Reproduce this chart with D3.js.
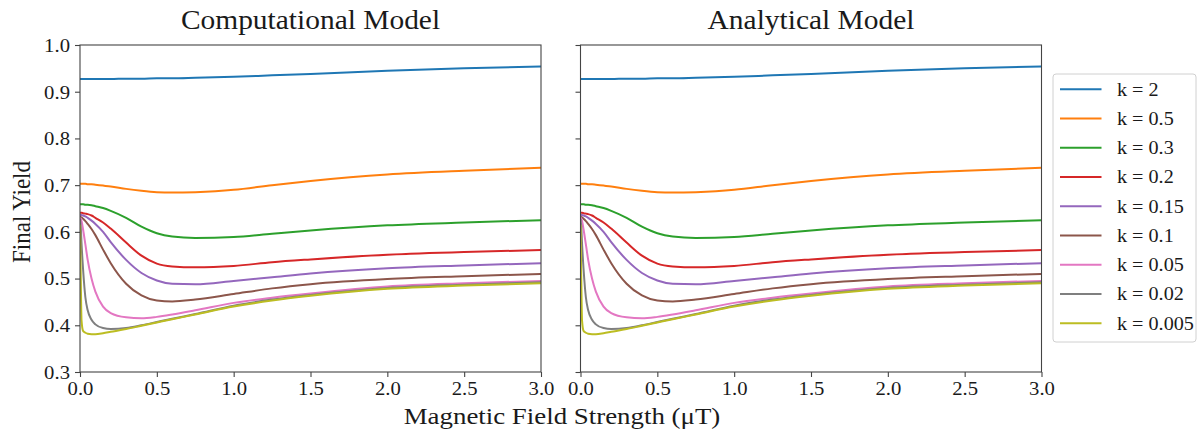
<!DOCTYPE html>
<html>
<head>
<meta charset="utf-8">
<script src="https://cdn.jsdelivr.net/npm/d3@7"></script>
<style>
  html, body { margin: 0; padding: 0; background: #fff; }
  svg { display: block; }
</style>
</head>
<body>
<svg id="chart" width="1198" height="432"></svg>
<script>
// Magnetic field strength (μT) sample points
const fieldStrength = [0, 0.005, 0.01, 0.02, 0.035, 0.05, 0.075, 0.1, 0.15, 0.2, 0.3, 0.4, 0.5, 0.6, 0.75, 1.0, 1.25, 1.5, 2.0, 2.5, 3.0];

// Final yield for each rate constant k
const yieldK2    = [0.927, 0.927, 0.927, 0.927, 0.927, 0.927, 0.927, 0.927, 0.927, 0.927, 0.928, 0.928, 0.929, 0.929, 0.930, 0.932, 0.935, 0.938, 0.945, 0.950, 0.954];
const yieldK05   = [0.703, 0.703, 0.703, 0.703, 0.703, 0.702, 0.702, 0.701, 0.699, 0.697, 0.692, 0.688, 0.685, 0.684, 0.685, 0.690, 0.700, 0.709, 0.723, 0.731, 0.737];
const yieldK03   = [0.659, 0.659, 0.659, 0.659, 0.658, 0.658, 0.657, 0.655, 0.651, 0.645, 0.630, 0.611, 0.597, 0.590, 0.587, 0.589, 0.596, 0.603, 0.614, 0.620, 0.625];
const yieldK02   = [0.641, 0.641, 0.641, 0.640, 0.639, 0.638, 0.635, 0.630, 0.620, 0.607, 0.577, 0.549, 0.532, 0.526, 0.524, 0.527, 0.535, 0.541, 0.551, 0.557, 0.561];
const yieldK015  = [0.636, 0.636, 0.636, 0.635, 0.633, 0.630, 0.624, 0.617, 0.600, 0.578, 0.540, 0.512, 0.496, 0.489, 0.488, 0.495, 0.503, 0.511, 0.522, 0.528, 0.533];
const yieldK01   = [0.632, 0.632, 0.631, 0.628, 0.623, 0.617, 0.606, 0.593, 0.562, 0.533, 0.489, 0.464, 0.453, 0.451, 0.455, 0.467, 0.479, 0.488, 0.499, 0.505, 0.510];
const yieldK005  = [0.630, 0.628, 0.623, 0.605, 0.573, 0.540, 0.500, 0.472, 0.440, 0.426, 0.417, 0.415, 0.418, 0.423, 0.432, 0.448, 0.459, 0.468, 0.483, 0.490, 0.495];
const yieldK002  = [0.628, 0.610, 0.575, 0.520, 0.460, 0.432, 0.412, 0.402, 0.394, 0.392, 0.394, 0.400, 0.407, 0.414, 0.424, 0.442, 0.455, 0.465, 0.480, 0.487, 0.492];
const yieldK0005 = [0.615, 0.500, 0.410, 0.388, 0.384, 0.382, 0.381, 0.381, 0.383, 0.386, 0.392, 0.399, 0.406, 0.413, 0.423, 0.440, 0.453, 0.463, 0.478, 0.485, 0.490];

const seriesLabels = ["k = 2", "k = 0.5", "k = 0.3", "k = 0.2", "k = 0.15", "k = 0.1", "k = 0.05", "k = 0.02", "k = 0.005"];
const seriesValues = [yieldK2, yieldK05, yieldK03, yieldK02, yieldK015, yieldK01, yieldK005, yieldK002, yieldK0005];
const seriesColors = ["#1f77b4", "#ff7f0e", "#2ca02c", "#d62728", "#9467bd", "#8c564b", "#e377c2", "#7f7f7f", "#bcbd22"];

const panelTitles = ["Computational Model", "Analytical Model"];
const xTicks = [0, 0.5, 1.0, 1.5, 2.0, 2.5, 3.0];
const yTicks = [0.3, 0.4, 0.5, 0.6, 0.7, 0.8, 0.9, 1.0];

// Layout
const svg = d3.select("#chart");
const fontFamily = "Liberation Serif";
const stretch = 1.12;           // horizontal glyph stretch
const plotTop = 45, plotH = 327, plotW = 461;
const panelLefts = [80, 580.5];
const axisColor = "#444";

const x = d3.scaleLinear().domain([0, 3]).range([0, plotW]);
const y = d3.scaleLinear().domain([0.3, 1.0]).range([plotH, 0]);

const line = d3.line()
  .x((d, i) => x(fieldStrength[i]))
  .y(d => y(d))
  .curve(d3.curveMonotoneX);

function stretchedText(sel, px, py, txt, size, anchor, rot) {
  return sel.append("text")
    .attr("transform", `translate(${px},${py}) scale(${stretch},1)` + (rot ? ` rotate(${rot})` : ""))
    .attr("text-anchor", anchor)
    .attr("font-family", fontFamily)
    .attr("font-size", size)
    .attr("fill", "#1a1a1a")
    .text(txt);
}

panelLefts.forEach((left, p) => {
  const g = svg.append("g").attr("transform", `translate(${left},${plotTop})`);

  // clip lines to the plotting area
  const clipId = "clip" + p;
  g.append("clipPath").attr("id", clipId)
    .append("rect").attr("width", plotW).attr("height", plotH);

  const lines = g.append("g").attr("clip-path", `url(#${clipId})`);
  seriesValues.forEach((vals, i) => {
    lines.append("path")
      .datum(vals)
      .attr("d", line)
      .attr("fill", "none")
      .attr("stroke", seriesColors[i])
      .attr("stroke-width", 2)
      .attr("stroke-linejoin", "round");
  });

  // frame
  g.append("rect")
    .attr("width", plotW).attr("height", plotH)
    .attr("fill", "none").attr("stroke", axisColor).attr("stroke-width", 1.1);

  // x axis
  const xa = g.append("g").attr("transform", `translate(0,${plotH})`)
    .call(d3.axisBottom(x).tickValues(xTicks).tickSize(5).tickFormat(""));
  xa.select(".domain").remove();
  xa.selectAll(".tick line").attr("stroke", axisColor).attr("stroke-width", 1.1);
  xa.selectAll(".tick").each(function(d) {
    stretchedText(d3.select(this), 0, 23, d3.format(".1f")(d), 18.5, "middle");
  });

  // y axis
  const ya = g.append("g")
    .call(d3.axisLeft(y).tickValues(yTicks).tickSize(5).tickFormat(""));
  ya.select(".domain").remove();
  ya.selectAll(".tick line").attr("stroke", axisColor).attr("stroke-width", 1.1);
  if (p === 0) {
    ya.selectAll(".tick").each(function(d) {
      stretchedText(d3.select(this), -10, 6.3, d3.format(".1f")(d), 18.5, "end");
    });
  }

  // panel title
  stretchedText(svg, left + plotW / 2, 29, panelTitles[p], 26.3, "middle");
});

// axis titles
stretchedText(svg, 562, 424, "Magnetic Field Strength (\u03bcT)", 24, "middle");
stretchedText(svg, 30, 212, "Final Yield", 23, "middle", -90);

// legend
const legend = svg.append("g").attr("transform", "translate(1053,74)");
legend.append("rect")
  .attr("width", 143).attr("height", 268)
  .attr("rx", 3).attr("ry", 3)
  .attr("fill", "#fff").attr("stroke", "#d0d0d0").attr("stroke-width", 1);
seriesLabels.forEach((lab, i) => {
  const ry = 15.3 + i * 29.25;
  legend.append("line")
    .attr("x1", 7).attr("x2", 48.5)
    .attr("y1", ry).attr("y2", ry)
    .attr("stroke", seriesColors[i]).attr("stroke-width", 2);
  stretchedText(legend, 64, ry + 6.3, lab, 18, "start");
});
</script>
</body>
</html>
